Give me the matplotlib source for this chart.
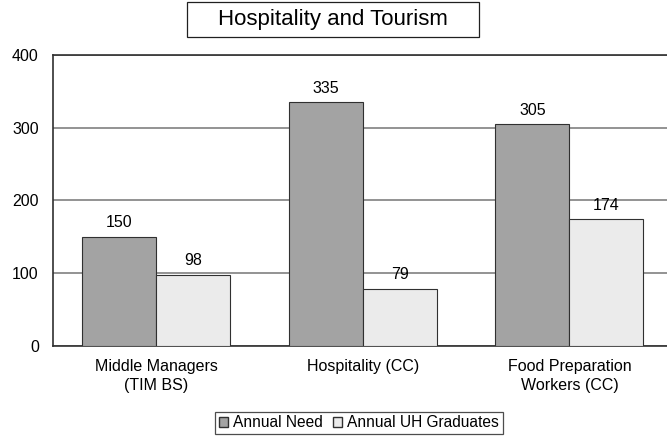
import numpy as np
import matplotlib
matplotlib.use('Agg')
import matplotlib.pyplot as plt
import matplotlib.patches as patches
from matplotlib.patches import Patch

plt.rcParams['font.family'] = ['Liberation Sans', 'DejaVu Sans']

# データ
categories = ['Middle Managers\n(TIM BS)', 'Hospitality (CC)', 'Food Preparation\nWorkers (CC)']
annual_need = [150, 335, 305]
annual_grads = [98, 79, 174]
series_names = ['Annual Need', 'Annual UH Graduates']
yticks = [0, 100, 200, 300, 400]

NEED_COLOR = '#a3a3a3'
GRAD_COLOR = '#ebebeb'
EDGE = '#303030'

fig = plt.figure(figsize=(6.67, 4.36), dpi=100)
ax = fig.add_axes([0.079, 0.2064, 0.9296, 0.6675])

x = np.arange(len(categories))
w = 0.358
b1 = ax.bar(x - w / 2, annual_need, w, color=NEED_COLOR, edgecolor=EDGE, linewidth=0.8, zorder=3)
b2 = ax.bar(x + w / 2, annual_grads, w, color=GRAD_COLOR, edgecolor=EDGE, linewidth=0.8, zorder=3)

# 値ラベル
for bars in (b1, b2):
    for r in bars:
        ax.text(r.get_x() + r.get_width() / 2, r.get_height() + 9, str(int(r.get_height())),
                ha='center', va='bottom', fontsize=11.5)

ax.set_xlim(-0.5, len(categories) - 0.5)
ax.set_ylim(0, 400)
ax.set_yticks(yticks)
ax.set_xticks(x)
ax.set_xticklabels(categories, linespacing=1.3)
ax.tick_params(axis='both', length=0, labelsize=11.5)
ax.tick_params(axis='y', pad=10)
ax.tick_params(axis='x', pad=9.5)
ax.yaxis.grid(True, color='#808080', linewidth=1.2, zorder=0)
for s in ax.spines.values():
    s.set_color('#303030')
    s.set_linewidth(1.2)

# タイトル（枠付き）
fig.patches.append(patches.Rectangle((0.2804, 0.915), 0.4377, 0.0804, transform=fig.transFigure,
                                     facecolor='white', edgecolor='#202020', linewidth=0.9))
fig.text(0.4993, 0.955, 'Hospitality and Tourism', ha='center', va='center', fontsize=16)

# 凡例
handles = [Patch(facecolor=NEED_COLOR, edgecolor=EDGE), Patch(facecolor=GRAD_COLOR, edgecolor=EDGE)]
leg = fig.legend(handles, series_names, loc='center', bbox_to_anchor=(0.538, 0.030), ncol=2, fontsize=11.2,
                 frameon=True, fancybox=False, handlelength=0.6, handleheight=0.6, handletextpad=0.33,
                 columnspacing=0.65, borderpad=0.25, borderaxespad=0)
leg.get_frame().set_edgecolor('#202020')
leg.get_frame().set_linewidth(0.9)

fig.savefig('out.png', dpi=100)
